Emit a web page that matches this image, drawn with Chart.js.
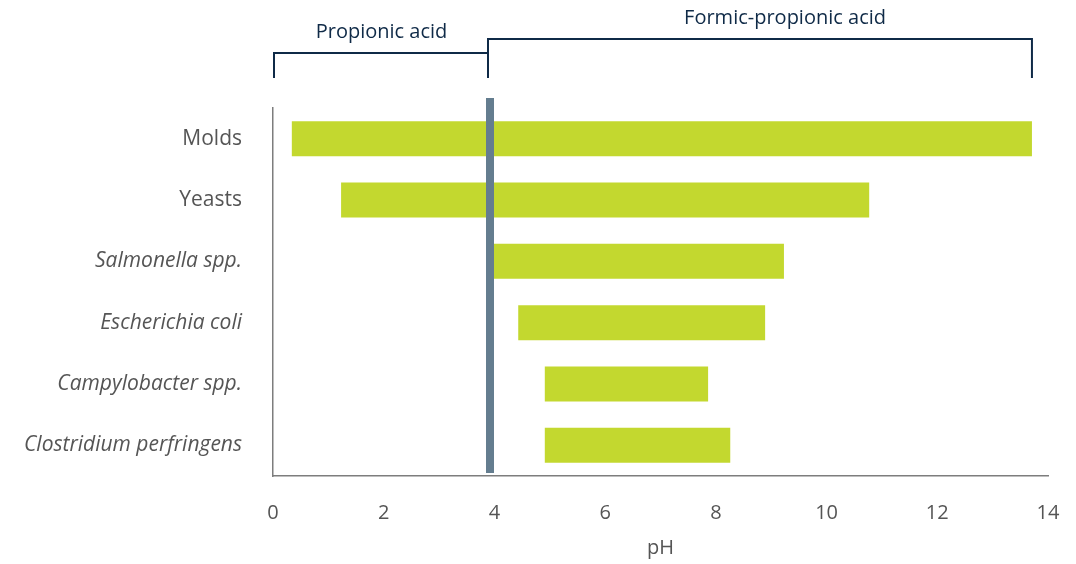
<!DOCTYPE html>
<html>
<head>
<meta charset="utf-8">
<script src="https://cdn.jsdelivr.net/npm/chart.js@4"></script>
<style>
  html, body { margin: 0; padding: 0; background: #ffffff; }
  #wrap { width: 1076px; height: 564px; position: relative; }
</style>
</head>
<body>
<div id="wrap"><canvas id="c" width="1076" height="564"></canvas></div>
<script>
// ---- data ----
const categories = ["Molds", "Yeasts", "Salmonella spp.", "Escherichia coli", "Campylobacter spp.", "Clostridium perfringens"];
const italicFlags = [false, false, true, true, true, true];
const rangeStart = [0.34, 1.23, 3.97, 4.43, 4.91, 4.91];
const rangeEnd = [13.71, 10.77, 9.23, 8.89, 7.86, 8.26];
const xTicks = [0, 2, 4, 6, 8, 10, 12, 14];
const markerValue = 3.92;
const bracketLabels = ["Propionic acid", "Formic-propionic acid"];
const bracketFrom = [0, 3.92];
const bracketTo = [3.92, 13.71];
const bracketLabelAt = [1.96, 9.25];

const FONT = "'Open Sans', 'Noto Sans', sans-serif";

const overlayPlugin = {
  id: 'overlay',
  afterDatasetsDraw(chart) {
    const ctx = chart.ctx;
    const xs = chart.scales.x;
    const area = chart.chartArea;
    const mx = xs.getPixelForValue(markerValue);
    ctx.save();
    ctx.fillStyle = '#647d8f';
    ctx.fillRect(mx - 4, area.top - 10, 8, area.bottom - area.top + 7);
    ctx.restore();
  },
  afterDraw(chart) {
    const ctx = chart.ctx;
    const xs = chart.scales.x;
    const tops = [53, 39];
    const bottom = 78;
    ctx.save();
    ctx.strokeStyle = '#0f2a47';
    ctx.lineWidth = 2;
    ctx.fillStyle = '#0f2a47';
    ctx.font = "20px " + FONT;
    ctx.textAlign = 'center';
    ctx.textBaseline = 'middle';
    for (let i = 0; i < bracketLabels.length; i++) {
      const x0 = xs.getPixelForValue(bracketFrom[i]) + (i === 0 ? 1 : -2);
      const x1 = xs.getPixelForValue(bracketTo[i]) - (i === 0 ? 2 : 0);
      const t = tops[i];
      ctx.beginPath();
      ctx.moveTo(x0, bottom);
      ctx.lineTo(x0, t);
      ctx.lineTo(x1, t);
      ctx.lineTo(x1, bottom);
      ctx.stroke();
      ctx.fillText(bracketLabels[i], xs.getPixelForValue(bracketLabelAt[i]), t - 21);
    }
    ctx.restore();
  }
};

new Chart(document.getElementById('c'), {
  type: 'bar',
  data: {
    labels: categories,
    datasets: [{
      data: categories.map((c, i) => [rangeStart[i], rangeEnd[i]]),
      backgroundColor: '#c3d82f',
      borderWidth: 0,
      barPercentage: 0.57,
      categoryPercentage: 1.0
    }]
  },
  options: {
    indexAxis: 'y',
    responsive: false,
    animation: false,
    events: [],
    layout: { padding: { top: 108, right: 28, left: 0, bottom: 0 } },
    plugins: { legend: { display: false }, tooltip: { enabled: false } },
    scales: {
      x: {
        type: 'linear',
        min: 0, max: 14,
        afterBuildTicks(s) { s.ticks = xTicks.map(v => ({ value: v })); },
        afterFit(s) { s.height = 88; s.paddingRight = 0; },
        grid: { display: false, drawTicks: false },
        border: { display: true, color: '#7d7d7d', width: 1.5 },
        ticks: {
          color: '#555555',
          font: { family: FONT, size: 20 },
          padding: 25
        },
        title: {
          display: true,
          text: 'pH',
          color: '#555555',
          font: { family: FONT, size: 20 },
          padding: { top: 13 }
        }
      },
      y: {
        afterFit(s) { s.width = 273; },
        grid: { display: false, drawTicks: false },
        border: { display: true, color: '#7d7d7d', width: 1.5 },
        ticks: {
          color: '#555555',
          padding: 31,
          font: (ctx) => ({ family: FONT, size: 21, style: italicFlags[ctx.index] ? 'italic' : 'normal' })
        }
      }
    }
  },
  plugins: [overlayPlugin]
});
</script>
</body>
</html>
